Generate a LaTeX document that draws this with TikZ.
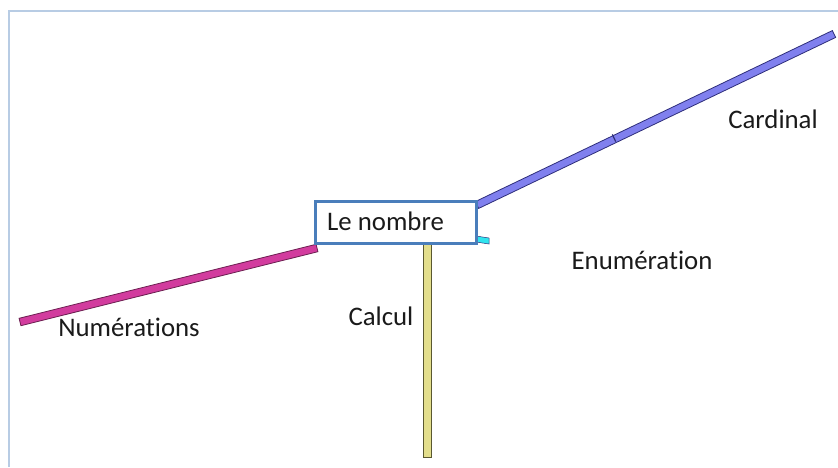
\documentclass[tikz,border=0pt]{standalone}
\usepackage{fontspec}
\setmainfont{Carlito}[Ligatures={NoCommon}]
\usetikzlibrary{calc}
\definecolor{framecol}{HTML}{B8CCE4}
\definecolor{boxcol}{HTML}{4A7EBB}
\definecolor{magfill}{HTML}{D23C9E}
\definecolor{magline}{HTML}{6B1F50}
\definecolor{bluefill}{HTML}{8080EE}
\definecolor{blueline}{HTML}{2E2E7A}
\definecolor{yelfill}{HTML}{E3DE8C}
\definecolor{yelline}{HTML}{5A5830}
\definecolor{cyanfill}{HTML}{30E4EE}
\definecolor{txt}{HTML}{1A1A1A}
\newcommand\drawbar[4]{\draw[#4] ($(#1)!#3!90:(#2)$) -- ($(#1)!#3!-90:(#2)$) -- ($(#2)!#3!90:(#1)$) -- ($(#2)!#3!-90:(#1)$) -- cycle;}
\tikzset{
  lbl/.style={font=\fontsize{26.8}{32}\selectfont, text=txt, inner sep=0pt},
  magbar/.style={fill=magfill, draw=magline, line width=0.8pt},
  bluebar/.style={fill=bluefill, draw=blueline, line width=0.8pt},
  yelbar/.style={fill=yelfill, draw=yelline, line width=0.8pt},
  cyanbar/.style={fill=cyanfill, draw=blueline, line width=0.5pt},
  mainbox/.style={draw=boxcol, line width=3pt, fill=white, minimum width=161pt, minimum height=42pt, inner sep=0pt}
}
\begin{document}
\begin{tikzpicture}[x=1pt,y=-1pt]
\useasboundingbox (0,0) rectangle (838,467);
\draw[framecol, line width=1.2pt] (9,467) -- (9,11) -- (838,11);
% bar end points
\coordinate (numA) at (20,322);
\coordinate (numB) at (317,248);
\coordinate (carA) at (477,205);
\coordinate (carB) at (834,34);
\coordinate (calA) at (427,243);
\coordinate (calB) at (427,457);
\coordinate (tick) at (614,138);
% bars
\drawbar{numA}{numB}{3.8pt}{magbar}
\drawbar{carA}{carB}{3.8pt}{bluebar}
\draw[blueline, line width=1.2pt] ($(tick)!4pt!90:(carB)$) -- ($(tick)!4pt!-90:(carB)$);
\drawbar{calA}{calB}{4pt}{yelbar}
\draw[cyanbar] (476,236) -- (489,238) -- (489,244) -- (476,242) -- cycle;
% box
\node[mainbox] (nombre) at (395.5,222) {};
\node[lbl, anchor=west] (nombretxt) at (327,221) {Le nombre};
% labels
\node[lbl] (cardinal) at (773,119) {Cardinal};
\node[lbl] (enum) at (642,260) {Enumération};
\node[lbl] (calcul) at (381,316) {Calcul};
\node[lbl] (numer) at (129,327) {Numérations};
\end{tikzpicture}
\end{document}
